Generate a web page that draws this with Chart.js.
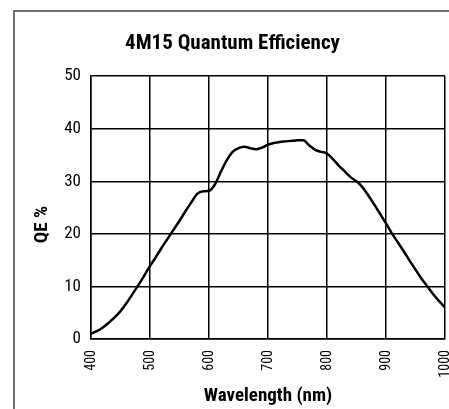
<!DOCTYPE html>
<html>
<head>
<meta charset="utf-8">
<script src="https://cdn.jsdelivr.net/npm/chart.js@4.4.1/dist/chart.umd.min.js"></script>
<style>
  html, body { margin: 0; padding: 0; background: #ffffff; }
  #wrap { width: 449px; height: 409px; position: relative; }
</style>
</head>
<body>
<div id="wrap"><canvas id="c" width="449" height="409"></canvas></div>
<script>
const chartTitle = "4M15 Quantum Efficiency";
const xAxisTitle = "Wavelength (nm)";
const yAxisTitle = "QE %";
const wavelengths = [400,410,420,430,440,450,460,470,480,490,500,510,520,530,540,550,560,570,580,590,600,610,620,630,640,650,660,670,680,690,700,710,720,730,740,750,760,770,780,790,800,810,820,830,840,850,860,870,880,890,900,910,920,930,940,950,960,970,980,990,1000];
const qe = [1.0,1.5,2.2,3.1,4.1,5.3,6.8,8.5,10.2,12.0,13.9,15.6,17.4,19.1,20.8,22.5,24.3,26.0,27.6,28.1,28.2,29.4,31.8,34.0,35.6,36.3,36.6,36.3,36.1,36.4,37.0,37.3,37.5,37.6,37.7,37.8,37.8,36.8,36.0,35.6,35.3,34.2,33.0,31.9,30.8,30.0,28.9,27.3,25.6,23.8,22.0,20.1,18.4,16.7,14.9,13.2,11.5,10.0,8.5,7.2,6.0];
const xTicks = [400,500,600,700,800,900,1000];
const yTicks = [0,10,20,30,40,50];

const points = wavelengths.map((w, i) => ({ x: w, y: qe[i] }));
const FONT = '"Roboto Condensed", "Liberation Sans Narrow", sans-serif';

const frameAndYTitle = {
  id: 'frameAndYTitle',
  beforeDraw(chart) {
    const ctx = chart.ctx;
    ctx.save();
    ctx.fillStyle = '#ffffff';
    ctx.fillRect(0, 0, chart.width, chart.height);
    ctx.strokeStyle = '#6e6e6e';
    ctx.lineWidth = 2;
    ctx.beginPath();
    ctx.moveTo(14, chart.height);
    ctx.lineTo(14, 11);
    ctx.lineTo(chart.width, 11);
    ctx.stroke();
    ctx.restore();
  },
  afterDraw(chart) {
    const ctx = chart.ctx;
    const a = chart.chartArea;
    ctx.save();
    ctx.translate(42, (a.top + a.bottom) / 2 + 17);
    ctx.rotate(-Math.PI / 2);
    ctx.font = 'bold 19px ' + FONT;
    ctx.fillStyle = '#000';
    ctx.textAlign = 'center';
    ctx.textBaseline = 'middle';
    ctx.fillText(yAxisTitle, 0, 0);
    ctx.restore();
  }
};

new Chart(document.getElementById('c'), {
  type: 'line',
  data: {
    datasets: [{
      data: points,
      borderColor: '#000000',
      borderWidth: 2.5,
      pointRadius: 0,
      cubicInterpolationMode: 'monotone',
      fill: false
    }]
  },
  options: {
    responsive: false,
    animation: false,
    devicePixelRatio: 1,
    layout: { padding: { left: 20, right: 4, top: 0, bottom: 0 } },
    plugins: {
      legend: { display: false },
      tooltip: { enabled: false },
      title: {
        display: true,
        text: chartTitle,
        color: '#000',
        font: { family: FONT, size: 21, weight: 'bold' },
        padding: { top: 31, bottom: 20 }
      }
    },
    scales: {
      x: {
        type: 'linear',
        min: 400,
        max: 1000,
        afterBuildTicks(scale) { scale.ticks = xTicks.map(v => ({ value: v })); },
        afterFit(scale) { scale.height = 70; scale.paddingLeft = 0; scale.paddingRight = 0; },
        grid: { color: '#000', lineWidth: 1.5, drawTicks: false },
        border: { color: '#000', width: 1.5 },
        ticks: {
          minRotation: 90, maxRotation: 90, autoSkip: false, padding: 11,
          color: '#000',
          callback: v => String(v),
          font: { family: FONT, size: 14 }
        },
        title: {
          display: true,
          text: xAxisTitle,
          color: '#000',
          font: { family: FONT, size: 19, weight: 'bold' },
          padding: { top: 0, bottom: 1 }
        }
      },
      y: {
        min: 0,
        max: 50,
        afterBuildTicks(scale) { scale.ticks = yTicks.map(v => ({ value: v })); },
        afterFit(scale) { scale.width = 71; scale.paddingTop = 0; scale.paddingBottom = 0; },
        grid: { color: '#000', lineWidth: 1.5, drawTicks: false },
        border: { color: '#000', width: 1.5 },
        ticks: {
          padding: 10,
          color: '#000',
          callback: v => String(v),
          font: { family: FONT, size: 17 }
        },
        title: { display: false }
      }
    }
  },
  plugins: [frameAndYTitle]
});
</script>
</body>
</html>
